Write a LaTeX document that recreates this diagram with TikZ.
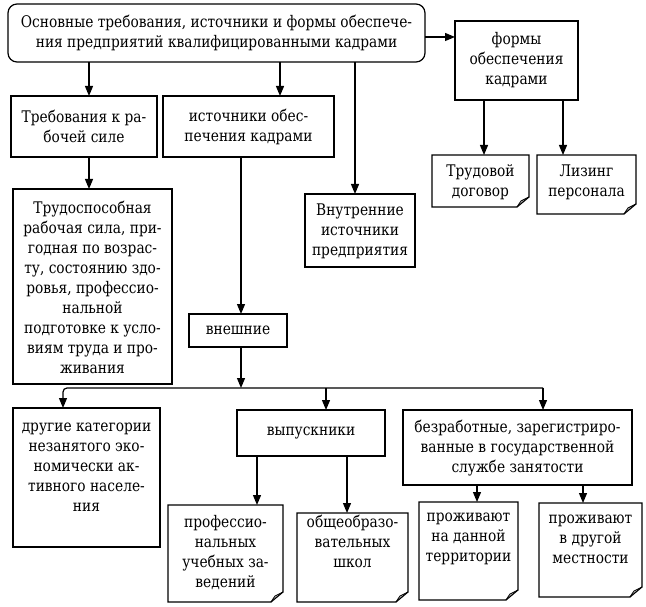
\documentclass[tikz,border=0pt]{standalone}
\usepackage{fontspec}
\setmainfont{DejaVu Serif}
\newfontfamily\rusfont[FakeStretch=0.86]{DejaVu Serif}
\usetikzlibrary{arrows.meta}
\tikzset{
  boxline/.style={line width=1.2pt, line join=miter},
  boxn/.style={boxline, draw, inner sep=0pt, outer sep=0pt},
  docn/.style={draw=none, inner sep=0pt, outer sep=0pt},
  txt/.style={align=center, inner sep=0pt, font=\rusfont\fontsize{16}{20}\selectfont},
  arr/.style={line width=1.2pt, -{Triangle[length=10pt,width=8pt]}},
  ln/.style={line width=1.2pt},
}
\newcommand\bx[7]{%
  \node[boxn, minimum width={#4-#2}, minimum height={#5-#3}, anchor=north west] (#1) at (#2,#3) {};
  \node[txt] (#1t) at ({(#2+#4)/2},#6) {#7};
}
\newcommand\dc[7]{%
  \node[docn, minimum width={#4-#2}, minimum height={#5-#3}, anchor=north west] (#1) at (#2,#3) {};
  \draw[boxline] (#1.north west) -- (#1.north east) -- ([yshift=10pt]#1.south east)
     -- ([xshift=-12pt]#1.south east) -- (#1.south west) -- cycle;
  \draw[line width=0.9pt] ([xshift=-12pt]#1.south east) -- ([xshift=-8pt,yshift=6pt]#1.south east)
     -- ([yshift=10pt]#1.south east);
  \node[txt] (#1t) at ({(#2+#4)/2},#6) {#7};
}
\begin{document}
\begin{tikzpicture}[x=1pt,y=-1pt]
\useasboundingbox (0,0) rectangle (646,607);
% top
\node[boxn, rounded corners=9pt, minimum width=417, minimum height=58, anchor=north west] (top) at (8,4) {};
\node[txt] (topt) at (216.5,33) {Основные требования, источники и формы обеспече-\\ния предприятий квалифицированными кадрами};
\bx{forms}{455}{21}{578}{100}{60}{формы\\обеспечения\\кадрами}
\bx{req}{11}{96}{157}{157}{126.5}{Требования к ра-\\бочей силе}
\bx{src}{163}{96}{334}{157}{126.5}{источники обес-\\печения кадрами}
\bx{trud}{13}{189}{172}{384}{287}{Трудоспособная\\рабочая сила, при-\\годная по возрас-\\ту, состоянию здо-\\ровья, профессио-\\нальной\\подготовке к усло-\\виям труда и про-\\живания}
\bx{vnutr}{305}{194}{415}{267}{231}{Внутренние\\источники\\предприятия}
\dc{trdog}{432}{155}{529}{207}{182}{Трудовой\\договор}
\dc{lizing}{537}{155}{636}{214}{182}{Лизинг\\персонала}
\bx{vnesh}{189}{314}{287}{347}{330.5}{внешние}
\bx{drugie}{13}{408}{160}{547}{467}{другие категории\\незанятого эко-\\номически ак-\\тивного населе-\\ния}
\bx{vypusk}{237}{410}{385}{456}{433}{выпускники}
\bx{bezrab}{403}{410}{632}{485}{448.5}{безработные, зарегистриро-\\ванные в государственной\\службе занятости}
\dc{prof}{168}{505}{283}{602}{552.5}{профессио-\\нальных\\учебных за-\\ведений}
\dc{obsh}{297}{513}{408}{602}{541}{общеобразо-\\вательных\\школ}
\dc{prozh1}{419}{502}{518}{600}{539}{проживают\\на данной\\территории}
\dc{prozh2}{539}{503}{642}{597}{539}{проживают\\в другой\\местности}
% coordinates for connector x positions
\coordinate (xa) at (89,0);
\coordinate (xb) at (280,0);
\coordinate (xc) at (355,0);
\coordinate (xd) at (484,0);
\coordinate (xe) at (563,0);
\coordinate (xf) at (241,0);
\coordinate (xg) at (257,0);
\coordinate (xh) at (347,0);
\coordinate (xi) at (477,0);
\coordinate (xj) at (583,0);
\coordinate (bL) at (63,388);
\coordinate (bJ) at (241,388);
\coordinate (bV) at (326,388);
\coordinate (bR) at (543,388);
% connectors
\draw[arr] (top.east |- 0,37) -- (forms.west |- 0,37);
\draw[arr] (top.south -| xa) -- (req.north -| xa);
\draw[arr] (top.south -| xb) -- (src.north -| xb);
\draw[arr] (top.south -| xc) -- (vnutr.north -| xc);
\draw[arr] (forms.south -| xd) -- (trdog.north -| xd);
\draw[arr] (forms.south -| xe) -- (lizing.north -| xe);
\draw[arr] (req.south -| xa) -- (trud.north -| xa);
\draw[arr] (src.south -| xf) -- (vnesh.north -| xf);
\draw[arr] (vnesh.south -| xf) -- (bJ);
\draw[arr, rounded corners=4pt] (bR) -- (bL) -- (bL |- drugie.north);
\draw[arr] (bV) -- (bV |- vypusk.north);
\draw[arr] (bR) -- (bR |- bezrab.north);
\draw[arr] (vypusk.south -| xg) -- (prof.north -| xg);
\draw[arr] (vypusk.south -| xh) -- (obsh.north -| xh);
\draw[arr] (bezrab.south -| xi) -- (prozh1.north -| xi);
\draw[arr] (bezrab.south -| xj) -- (prozh2.north -| xj);
\end{tikzpicture}
\end{document}
